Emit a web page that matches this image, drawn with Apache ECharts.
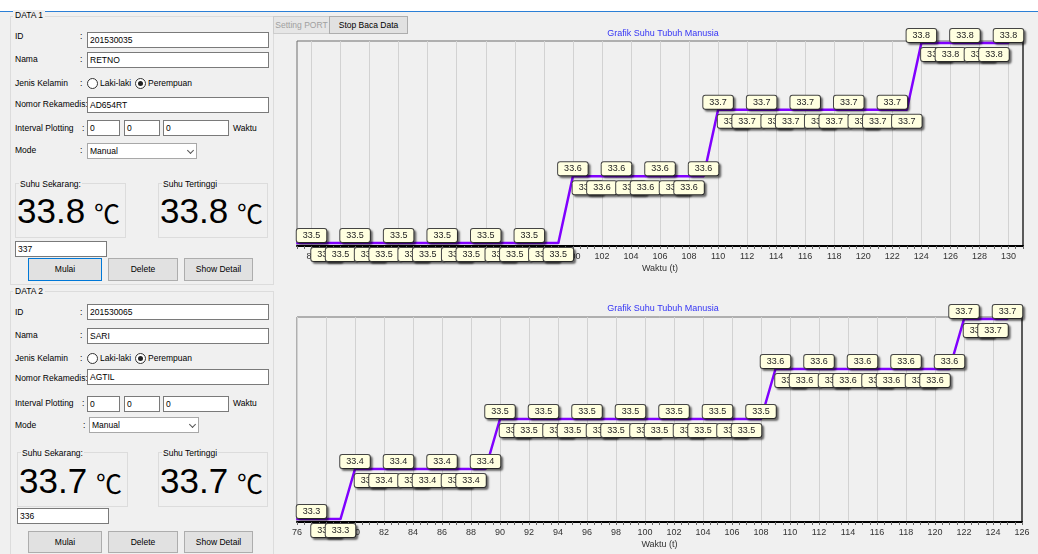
<!DOCTYPE html>
<html>
<head>
<meta charset="utf-8">
<script src="https://cdn.jsdelivr.net/npm/echarts@6/dist/echarts.min.js"></script>
<style>
body{margin:0;width:1038px;height:554px;overflow:hidden;background:#f0f0f0;font-family:"Liberation Sans",Arial,sans-serif;font-size:8.5px;color:#000;position:relative}
.a{position:absolute;white-space:nowrap;line-height:10px}
.tb{position:absolute;background:#fff;border:1px solid #7a7a7a;box-sizing:border-box;padding:2px 2px 0 2px;line-height:10px;white-space:nowrap}
.grp{position:absolute;border:1px solid #dcdcdc;box-sizing:border-box}
.btn{position:absolute;background:#e1e1e1;border:1px solid #adadad;box-sizing:border-box;text-align:center;white-space:nowrap}
.rad{position:absolute;width:11px;height:11px;border:1px solid #333;border-radius:50%;box-sizing:border-box;background:#fff}
.rad.on::after{content:"";position:absolute;left:2px;top:2px;width:5px;height:5px;border-radius:50%;background:#222}
.big{position:absolute;font-size:35px;line-height:35px;white-space:nowrap}
.deg{position:absolute;font-family:"Noto Sans CJK JP";font-size:26px;line-height:26px}
.chev{position:absolute;width:4px;height:4px;border-right:1px solid #555;border-bottom:1px solid #555;transform:rotate(45deg)}
#chart{position:absolute;left:274px;top:12px;width:764px;height:542px}
</style>
</head>
<body>
<div style="position:absolute;left:0;top:0;width:1038px;height:11px;background:#fff"></div>
<div style="position:absolute;left:0;top:11px;width:1038px;height:1px;background:#2b7fd6"></div>
<div id="form"></div>
<div id="chart"></div>
<div class="btn" style="left:273px;top:16px;width:57px;height:18px;line-height:16px;color:#a0a0a0;background:#e6e6e6;border-color:#cccccc">Setting PORT</div>
<div class="btn" style="left:329px;top:16px;width:79px;height:18px;line-height:16px">Stop Baca Data</div>
<script>
// data grafik 1 (DATA 1)
const waktu1 = [81, 82, 83, 84, 85, 86, 87, 88, 89, 90, 91, 92, 93, 94, 95, 96, 97, 98, 99, 100,
  101, 102, 103, 104, 105, 106, 107, 108, 109, 110, 111, 112, 113, 114, 115, 116, 117, 118, 119, 120,
  121, 122, 123, 124, 125, 126, 127, 128, 129, 130]
const suhu1 = [33.5, 33.5, 33.5, 33.5, 33.5, 33.5, 33.5, 33.5, 33.5, 33.5, 33.5, 33.5, 33.5, 33.5, 33.5, 33.5, 33.5, 33.5, 33.5,
  33.6, 33.6, 33.6, 33.6, 33.6, 33.6, 33.6, 33.6, 33.6, 33.6,
  33.7, 33.7, 33.7, 33.7, 33.7, 33.7, 33.7, 33.7, 33.7, 33.7, 33.7, 33.7, 33.7, 33.7,
  33.8, 33.8, 33.8, 33.8, 33.8, 33.8, 33.8]
const tick1 = [82, 84, 86, 88, 90, 92, 94, 96, 98, 100, 102, 104, 106, 108, 110, 112, 114, 116, 118, 120, 122, 124, 126, 128, 130]
const rangeX1 = [81, 131]
const rangeY1 = [33.4955, 33.803]

// data grafik 2 (DATA 2)
const waktu2 = [76, 77, 78, 79, 80, 81, 82, 83, 84, 85, 86, 87, 88, 89, 90, 91, 92, 93, 94, 95,
  96, 97, 98, 99, 100, 101, 102, 103, 104, 105, 106, 107, 108, 109, 110, 111, 112, 113, 114, 115,
  116, 117, 118, 119, 120, 121, 122, 123, 124, 125]
const suhu2 = [33.3, 33.3, 33.3, 33.3,
  33.4, 33.4, 33.4, 33.4, 33.4, 33.4, 33.4, 33.4, 33.4, 33.4,
  33.5, 33.5, 33.5, 33.5, 33.5, 33.5, 33.5, 33.5, 33.5, 33.5, 33.5, 33.5, 33.5, 33.5, 33.5, 33.5, 33.5, 33.5, 33.5,
  33.6, 33.6, 33.6, 33.6, 33.6, 33.6, 33.6, 33.6, 33.6, 33.6, 33.6, 33.6, 33.6,
  33.7, 33.7, 33.7, 33.7]
const tick2 = [76, 78, 80, 82, 84, 86, 88, 90, 92, 94, 96, 98, 100, 102, 104, 106, 108, 110, 112, 114, 116, 118, 120, 122, 124, 126]
const rangeX2 = [76, 126]
const rangeY2 = [33.294, 33.704]

const judul = 'Grafik Suhu Tubuh Manusia'
const namaSumbuX = 'Waktu (t)'

// isi form kiri
const pasien = [
  {grup: 'DATA 1', id: '201530035', nama: 'RETNO', rm: 'AD654RT', sekarang: '33.8', tertinggi: '33.8', jumlah: '337'},
  {grup: 'DATA 2', id: '201530065', nama: 'SARI', rm: 'AGTIL', sekarang: '33.7', tertinggi: '33.7', jumlah: '336'}
]

// posisi elemen form per panel
const tata = [
  {g: [10, 16, 264, 269], gt: 15, id: 36, nama: 59, jk: 83, rm: 104, iv: 128, mode: 150,
    tId: 32, tNama: 52, tRm: 97, tIv: 120, cb: [87, 143], cMode: 80,
    box: 183, bx: 15, bigTop: 193, tJml: [15, 241], btn: 258, btnH: 23, fokus: true},
  {g: [10, 291, 264, 270], gt: 291, id: 312, nama: 335, jk: 358, rm: 378, iv: 403, mode: 425,
    tId: 304, tNama: 328, tRm: 369, tIv: 396, cb: [89, 417], cMode: 83,
    box: 452, bx: 17, bigTop: 463, tJml: [17, 508], btn: 531, btnH: 22, fokus: false}
]

const form = document.getElementById('form')
const add = (cls, css, html) => {
  const d = document.createElement('div')
  d.className = cls
  d.style.cssText = css
  d.innerHTML = html || ''
  form.appendChild(d)
}

pasien.forEach((p, i) => {
  const t = tata[i]
  add('grp', `left:${t.g[0]}px;top:${t.g[1]}px;width:${t.g[2]}px;height:${t.g[3]}px`)
  add('a', `left:13px;top:${t.gt - 5}px;background:#f0f0f0;padding:0 2px`, p.grup)
  const lbl = (txt, y, x) => add('a', `left:${x || 15}px;top:${y - 5}px`, txt)
  lbl('ID', t.id); lbl(':', t.id, 80)
  lbl('Nama', t.nama); lbl(':', t.nama, 80)
  lbl('Jenis Kelamin', t.jk); lbl(':', t.jk, 80)
  lbl('Nomor Rekamedis:', t.rm)
  lbl('Interval Plotting', t.iv); lbl(':', t.iv, 82)
  lbl('Mode', t.mode); lbl(':', t.mode, t.cMode)
  lbl('Waktu', t.iv, 233)
  add('tb', `left:87px;top:${t.tId}px;width:182px;height:16px`, p.id)
  add('tb', `left:87px;top:${t.tNama}px;width:182px;height:16px`, p.nama)
  add('tb', `left:87px;top:${t.tRm}px;width:182px;height:16px`, p.rm)
  add('tb', `left:87px;top:${t.tIv}px;width:33px;height:16px`, '0')
  add('tb', `left:124px;top:${t.tIv}px;width:36px;height:16px`, '0')
  add('tb', `left:163px;top:${t.tIv}px;width:66px;height:16px`, '0')
  add('tb', `left:${t.cb[0]}px;top:${t.cb[1]}px;width:110px;height:16px;border-color:#a8a8a8`, 'Manual')
  add('chev', `left:${t.cb[0] + 101}px;top:${t.cb[1] + 5}px`)
  add('rad', `left:87px;top:${t.jk - 5}px`)
  lbl('Laki-laki', t.jk, 100)
  add('rad on', `left:135px;top:${t.jk - 5}px`)
  lbl('Perempuan', t.jk, 148)
  // kotak suhu
  add('grp', `left:${t.bx}px;top:${t.box}px;width:111px;height:55px`)
  add('a', `left:${t.bx + 4}px;top:${t.box - 4}px;background:#f0f0f0;padding:0 1px`, 'Suhu Sekarang:')
  add('big', `left:${t.bx + 2}px;top:${t.bigTop}px`, p.sekarang)
  add('deg', `left:${t.bx + 79}px;top:${t.bigTop + 7}px`, '℃')
  add('grp', `left:158px;top:${t.box}px;width:110px;height:55px`)
  add('a', `left:162px;top:${t.box - 4}px;background:#f0f0f0;padding:0 1px`, 'Suhu Tertinggi')
  add('big', `left:160px;top:${t.bigTop}px`, p.tertinggi)
  add('deg', `left:237px;top:${t.bigTop + 7}px`, '℃')
  add('tb', `left:${t.tJml[0]}px;top:${t.tJml[1]}px;width:92px;height:16px`, p.jumlah)
  const bs = `top:${t.btn}px;height:${t.btnH}px;line-height:${t.btnH - 2}px`
  add('btn', `left:28px;width:74px;${bs}` + (t.fokus ? ';border-color:#0078d7' : ''), 'Mulai')
  add('btn', `left:108px;width:70px;${bs}`, 'Delete')
  add('btn', `left:184px;width:69px;${bs}`, 'Show Detail')
})

// label: satu di atas, dua di bawah (seperti smart label)
const rencanaLabel = (vals) => {
  let k = 0
  return vals.map((v, i) => {
    if (i === 0) return null
    if (i > 1 && v !== vals[i - 1]) k = 0
    const atas = k % 3 === 0
    k++
    return atas ? 'top' : 'bottom'
  })
}

const gayaLabel = {
  show: true,
  formatter: (p) => p.value[1].toFixed(1),
  color: '#222',
  fontSize: 9,
  fontFamily: 'Liberation Sans',
  lineHeight: 9,
  backgroundColor: '#ffffe0',
  borderColor: '#444',
  borderWidth: 1,
  borderRadius: 2,
  padding: [2, 6, 2, 6],
  shadowColor: 'rgba(0,0,0,0.45)',
  shadowBlur: 2,
  shadowOffsetX: 2,
  shadowOffsetY: 2
}

const buatSeri = (idx, xs, ys) => {
  const rencana = rencanaLabel(ys)
  return {
    type: 'line',
    xAxisIndex: idx * 2,
    yAxisIndex: idx,
    data: xs.map((x, i) => ({
      value: [x, ys[i]],
      label: rencana[i] ? {show: true, position: rencana[i], distance: rencana[i] === 'top' ? 0 : 4} : {show: false}
    })),
    symbol: 'circle',
    symbolSize: 2,
    itemStyle: {color: '#8000ff'},
    lineStyle: {color: '#8000ff', width: 2.5},
    label: gayaLabel,
    silent: true,
    emphasis: {disabled: true},
    z: 3
  }
}

const tickHalus = (r) => {
  const out = []
  for (let v = r[0]; v <= r[1]; v += 0.5) out.push(v)
  return out
}

const sumbuX = (idx, r, ticks) => ([
  {
    gridIndex: idx, type: 'value', min: r[0], max: r[1],
    axisLine: {onZero: false, lineStyle: {color: '#000', width: 2}},
    axisTick: {customValues: tickHalus(r), length: 3, lineStyle: {color: '#666'}},
    axisLabel: {customValues: ticks, color: '#333', fontSize: 9, margin: 6, fontFamily: 'Liberation Sans'},
    splitLine: {show: false},
    name: namaSumbuX, nameLocation: 'middle', nameGap: 18,
    nameTextStyle: {color: '#333', fontSize: 9, fontFamily: 'Liberation Sans'}
  },
  {
    gridIndex: idx, type: 'value', min: r[0], max: r[1],
    axisLine: {show: false},
    axisTick: {show: false, customValues: ticks},
    axisLabel: {show: false},
    splitLine: {show: true, lineStyle: {color: '#d2d2d2', width: 1}}
  }
])

const sumbuY = (idx, r) => ({
  gridIndex: idx, type: 'value', min: r[0], max: r[1], position: 'right',
  axisLine: {show: true, lineStyle: {color: '#5a5a5a', width: 2}},
  axisTick: {show: false}, axisLabel: {show: false}, splitLine: {show: false}
})

const judulGaya = {color: '#3535f5', fontSize: 9, fontWeight: 'normal', fontFamily: 'Liberation Sans'}

const chart = echarts.init(document.getElementById('chart'))
chart.setOption({
  animation: false,
  title: [
    {text: judul, left: 389, top: 17, textAlign: 'center', padding: 0, textStyle: judulGaya},
    {text: judul, left: 389, top: 292, textAlign: 'center', padding: 0, textStyle: judulGaya}
  ],
  grid: [
    {left: 23, top: 29, width: 726, height: 205, show: true, borderColor: '#6e6e6e', borderWidth: 1},
    {left: 23, top: 305, width: 725, height: 205, show: true, borderColor: '#6e6e6e', borderWidth: 1}
  ],
  xAxis: [...sumbuX(0, rangeX1, tick1), ...sumbuX(1, rangeX2, tick2)],
  yAxis: [sumbuY(0, rangeY1), sumbuY(1, rangeY2)],
  series: [buatSeri(0, waktu1, suhu1), buatSeri(1, waktu2, suhu2)]
})
</script>
</body>
</html>
